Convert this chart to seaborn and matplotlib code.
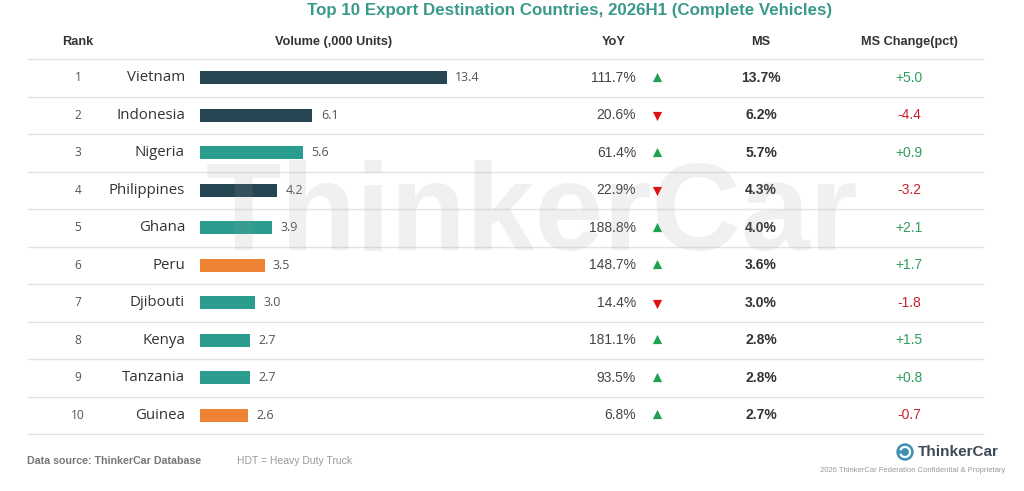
import matplotlib
matplotlib.use("Agg")
import matplotlib.pyplot as plt
import seaborn as sns
import pandas as pd
from matplotlib.patches import Circle, Arc

# ---------------- data ----------------
ranks = [1, 2, 3, 4, 5, 6, 7, 8, 9, 10]
countries = ["Vietnam", "Indonesia", "Nigeria", "Philippines", "Ghana",
             "Peru", "Djibouti", "Kenya", "Tanzania", "Guinea"]
volumes = [13.4, 6.1, 5.6, 4.2, 3.9, 3.5, 3.0, 2.7, 2.7, 2.6]
groups = ["A", "A", "B", "A", "B", "C", "B", "B", "B", "C"]
yoy = ["111.7%", "20.6%", "61.4%", "22.9%", "188.8%", "148.7%", "14.4%", "181.1%", "93.5%", "6.8%"]
yoy_arrow = ["up", "down", "up", "down", "up", "up", "down", "up", "up", "up"]
ms = ["13.7%", "6.2%", "5.7%", "4.3%", "4.0%", "3.6%", "3.0%", "2.8%", "2.8%", "2.7%"]
ms_change = [5.0, -4.4, 0.9, -3.2, 2.1, 1.7, -1.8, 1.5, 0.8, -0.7]
headers = ["Rank", "Volume (,000 Units)", "YoY", "MS", "MS Change(pct)"]
title = "Top 10 Export Destination Countries, 2026H1 (Complete Vehicles)"

palette = {"A": "#264653", "B": "#2a9d8f", "C": "#ee8433"}

df = pd.DataFrame({"country": countries, "volume": volumes, "group": groups})

# ---------------- figure ----------------
sns.set_theme(style="white")
plt.rcParams["font.family"] = ["Liberation Sans", "DejaVu Sans"]
W, H = 1024, 491
fig = plt.figure(figsize=(W / 100, H / 100), dpi=100)
fig.patch.set_facecolor("white")

top, bottom = 59, 434
row_h = (bottom - top) / len(countries)
px_per_unit = 18.43
bar_w_px = 420

# bar axes
axb = fig.add_axes([200 / W, (H - bottom) / H, bar_w_px / W, (bottom - top) / H])
sns.barplot(data=df, y="country", x="volume", hue="group", palette=palette,
            dodge=False, width=0.35, orient="h", legend=False, ax=axb,
            saturation=1, linewidth=0)
axb.set_xlim(0, bar_w_px / px_per_unit)
axb.set_ylim(len(countries) - 0.5, -0.5)
axb.axis("off")
for cont in axb.containers:
    axb.bar_label(cont, fmt="%.1f", padding=6, fontsize=9,
                  color="#555555", family=["Open Sans", "DejaVu Sans"])

# overlay axes in pixel coordinates
ax = fig.add_axes([0, 0, 1, 1])
ax.set_xlim(0, W)
ax.set_ylim(H, 0)
ax.axis("off")
ax.patch.set_alpha(0)

# title
ax.text(570, 10, title, ha="center", va="center", fontsize=12.2,
        fontweight="bold", color="#3a9a8a")

# headers
hx = [78, 334, 614, 761, 909]
for x, h in zip(hx, headers):
    ax.text(x, 42, h, ha="center", va="center", fontsize=9.2,
            fontweight="bold", color="#333333")

# separator lines
for k in range(len(countries) + 1):
    y = top + k * row_h
    ax.plot([28, 983], [y, y], color="#e3e3e3", lw=1.0, zorder=1)

# rows
for i in range(len(countries)):
    y = top + (i + 0.5) * row_h
    ax.text(78, y, str(ranks[i]), ha="center", va="center", fontsize=8.6,
            color="#555555", family=["Open Sans", "DejaVu Sans"])
    ax.text(185, y, countries[i], ha="right", va="center", fontsize=10.8,
            color="#333333", family=["Open Sans", "DejaVu Sans"])
    ax.text(636, y, yoy[i], ha="right", va="center", fontsize=10,
            color="#444444")
    if yoy_arrow[i] == "up":
        ax.scatter([657], [y - 1], marker="^", s=44, color="#20a050",
                   linewidths=0, zorder=3)
    else:
        ax.scatter([657], [y + 1], marker="v", s=44, color="#dd1111",
                   linewidths=0, zorder=3)
    ax.text(761, y, ms[i], ha="center", va="center", fontsize=10,
            fontweight="bold", color="#333333")
    c = ms_change[i]
    ax.text(909, y, f"{c:+.1f}", ha="center", va="center", fontsize=10,
            color="#2e9e5b" if c >= 0 else "#c8202e")

# watermark
ax.text(532, 250, "ThinkerCar", ha="center", va="baseline", fontsize=89,
        fontweight="bold", color="#999999", alpha=0.14, zorder=10)

# footer
ax.text(27, 461, "Data source: ThinkerCar Database", ha="left", va="center",
        fontsize=7.7, fontweight="bold", color="#777777")
ax.text(237, 461, "HDT = Heavy Duty Truck", ha="left", va="center",
        fontsize=7.5, color="#999999")

# logo
ax.add_patch(Circle((905, 452), 8, color="#3f8fb5", zorder=4))
ax.add_patch(Arc((905, 452), 10, 10, theta1=200, theta2=520, color="white",
                 lw=1.6, zorder=5))
ax.text(918, 452, "ThinkerCar", ha="left", va="center", fontsize=11,
        fontweight="bold", color="#3d4a55")
ax.text(1005, 471, "2026 ThinkerCar Federation Confidential & Proprietary",
        ha="right", va="center", fontsize=5.5, color="#999999")

fig.savefig("out.png", dpi=100, facecolor="white")
